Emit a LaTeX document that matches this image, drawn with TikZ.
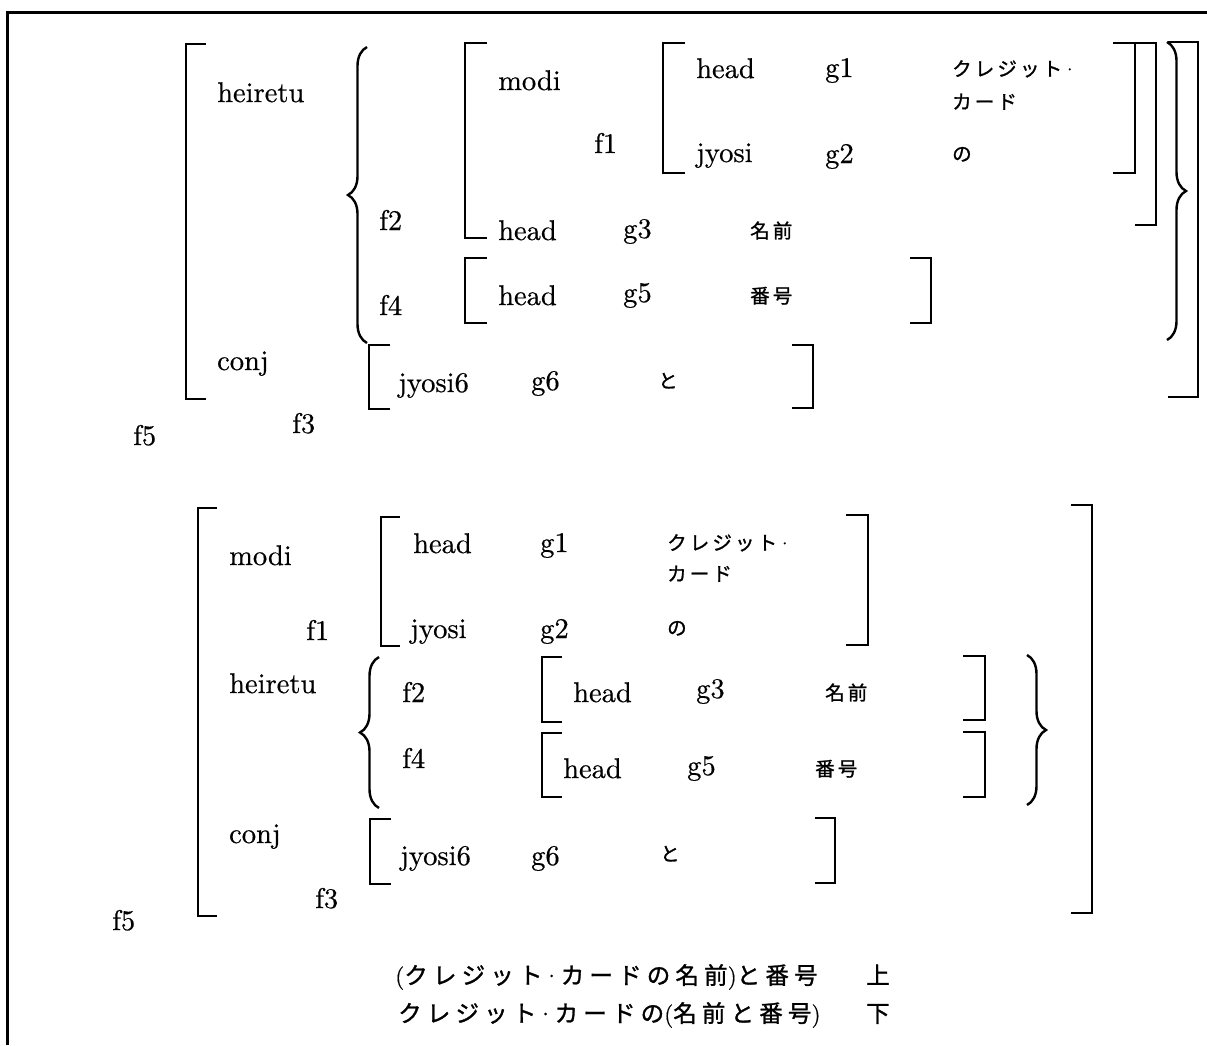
\documentclass[tikz,border=0pt]{standalone}
\usepackage{fontspec}
\setmainfont{lmroman10-regular}[Extension=.otf,FakeBold=0.5]
\newfontfamily\jpf[LetterSpace=16,FakeBold=1.2]{Noto Sans CJK JP}
\newfontfamily\jpw[LetterSpace=22,FakeBold=1.2]{Noto Sans CJK JP}
\usetikzlibrary{decorations.pathreplacing}
\tikzset{
 lab/.style={anchor=base west,inner sep=0pt,font=\fontsize{28.5}{30}\selectfont},
 jlab/.style={anchor=base west,inner sep=0pt,font=\jpf\fontsize{19.5}{21}\selectfont},
 jbig/.style={anchor=base west,inner sep=0pt,font=\jpw\fontsize{23.5}{25}\selectfont},
 brk/.style={line width=1.8pt},
 brc/.style={line width=2.4pt,decorate,decoration={brace,amplitude=19pt}},
 frm/.style={line width=3pt}
}
% left bracket: x, ytop, ybottom, tick
\newcommand\LBr[4]{\draw[brk] (#1+#4,#2) -- (#1,#2) -- (#1,#3) -- (#1+#4,#3);}
% right bracket
\newcommand\RBr[4]{\draw[brk] (#1-#4,#2) -- (#1,#2) -- (#1,#3) -- (#1-#4,#3);}
\newcommand\mdot{{\rmfamily\char"00B7}}
\begin{document}
\begin{tikzpicture}[x=1pt,y=-1pt]
\useasboundingbox (0,0) rectangle (1207,1045);
\draw[frm] (1207,12) -- (7,12) -- (7,1045);

% ================= upper structure =================
\LBr{186}{44}{399}{20}
\LBr{465}{43}{238}{22}
\LBr{465}{258}{323}{22}
\LBr{663}{43}{173}{22}
\RBr{1135}{43}{173}{22}
\RBr{1156}{43}{225}{21}
\RBr{931}{258}{323}{21}
\LBr{369}{345}{409}{21}
\RBr{813}{345}{408}{21}
\RBr{1198}{42}{397}{30}
\draw[brc] (367,343) -- (367,47);
\draw[brc] (1167,42) -- (1167,340);

\node[lab] (a1) at (217,102) {heiretu};
\node[lab] (a2) at (217,370) {conj};
\node[lab] (a3) at (133,445) {f5};
\node[lab] (a4) at (292,433) {f3};
\node[lab] (a5) at (379,230) {f2};
\node[lab] (a6) at (379,315) {f4};
\node[lab] (a7) at (498,90) {modi};
\node[lab] (a8) at (594,153) {f1};
\node[lab] (a9) at (498,240) {head};
\node[lab] (a10) at (498,305) {head};
\node[lab] (a11) at (696,78) {head};
\node[lab] (a12) at (825,77) {g1};
\node[jlab] (a13) at (952,76) {クレジット\mdot};
\node[jlab] (a14) at (952,109) {カード};
\node[lab] (a15) at (696,162) {jyosi};
\node[lab] (a16) at (825,163) {g2};
\node[jlab] (a17) at (952,161) {の};
\node[lab] (a18) at (623,238) {g3};
\node[jlab] (a19) at (750,238) {名前};
\node[lab] (a20) at (623,302) {g5};
\node[jlab] (a21) at (750,303) {番号};
\node[lab] (a22) at (398,392) {jyosi6};
\node[lab] (a23) at (531,390) {g6};
\node[jlab] (a24) at (658,388) {と};

% ================= lower structure =================
\LBr{198}{508}{916}{19}
\LBr{381}{517}{646}{19}
\RBr{868}{515}{645}{22}
\LBr{542}{657}{722}{20}
\LBr{542}{733}{797}{20}
\RBr{985}{656}{720}{22}
\RBr{985}{732}{797}{22}
\LBr{370}{819}{884}{21}
\RBr{835}{818}{883}{20}
\RBr{1092}{505}{913}{21}
\draw[brc] (379,808) -- (379,657);
\draw[brc] (1027,655) -- (1027,805);

\node[lab] (b1) at (229,565) {modi};
\node[lab] (b2) at (306,640) {f1};
\node[lab] (b3) at (229,693) {heiretu};
\node[lab] (b4) at (229,843) {conj};
\node[lab] (b5) at (315,908) {f3};
\node[lab] (b6) at (112,930) {f5};
\node[lab] (b7) at (413,553) {head};
\node[lab] (b8) at (540,552) {g1};
\node[jlab] (b9) at (667,550) {クレジット\mdot};
\node[jlab] (b10) at (667,581) {カード};
\node[lab] (b11) at (410,638) {jyosi};
\node[lab] (b12) at (540,638) {g2};
\node[jlab] (b13) at (667,635) {の};
\node[lab] (b14) at (402,702) {f2};
\node[lab] (b15) at (402,768) {f4};
\node[lab] (b16) at (573,702) {head};
\node[lab] (b17) at (696,698) {g3};
\node[jlab] (b18) at (825,700) {名前};
\node[lab] (b19) at (563,778) {head};
\node[lab] (b20) at (687,775) {g5};
\node[jlab] (b21) at (815,776) {番号};
\node[lab] (b22) at (400,865) {jyosi6};
\node[lab] (b23) at (531,865) {g6};
\node[jlab] (b24) at (660,861) {と};

% ================= captions =================
\node[jbig] (c1) at (395,984) {{\rmfamily(}クレジット\mdot カードの名前{\rmfamily)}と番号};
\node[jbig] (c2) at (866,984) {上};
\node[jbig] (c3) at (398,1022) {クレジット\mdot カードの{\rmfamily(}名前と番号{\rmfamily)}};
\node[jbig] (c4) at (866,1022) {下};
\end{tikzpicture}
\end{document}
